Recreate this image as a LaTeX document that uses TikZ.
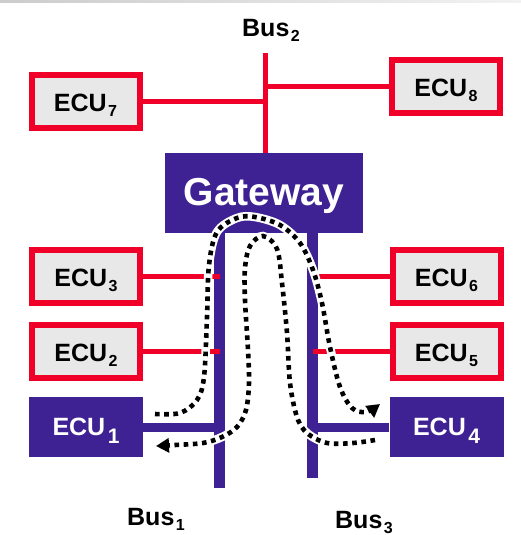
\documentclass[tikz,border=0pt]{standalone}
\usepackage{fontspec}
\setmainfont{Liberation Sans}
\usetikzlibrary{arrows.meta}
\definecolor{ecured}{RGB}{240,0,40}
\definecolor{ecupurple}{RGB}{62,33,146}
\definecolor{ecugrey}{RGB}{232,232,232}
\newcommand{\subsm}[1]{\kern1.5pt\raisebox{-5pt}{\fontsize{16}{16}\selectfont #1}}
\newcommand{\sublg}[1]{\kern2.5pt\raisebox{-8pt}{\fontsize{21}{21}\selectfont #1}}
\begin{document}
\begin{tikzpicture}[x=1pt,y=-1pt,
  font=\fontsize{25}{25}\selectfont\bfseries,
  redecu/.style={draw=ecured, line width=6pt, fill=ecugrey, minimum width=108pt,
    minimum height=53pt, inner sep=0pt, text height=21pt, text depth=2pt},
  purpleecu/.style={fill=ecupurple, text=white, minimum width=114pt,
    minimum height=60pt, inner sep=0pt, text height=20pt, text depth=4pt},
  redlink/.style={draw=ecured, line width=5pt},
  buslink/.style={draw=ecupurple, line width=9pt},
  busbar/.style={draw=ecupurple, line width=11pt},
  flowhalo/.style={draw=white, line width=8.5pt},
  flow/.style={draw=black, line width=4.6pt, dash pattern=on 4.6pt off 4.6pt,
    -{Triangle[length=13pt,width=14pt]}},
  buslabel/.style={anchor=base, inner sep=0pt}
]
\useasboundingbox (0,0) rectangle (521,535);
\shade[left color=gray!40, right color=gray!10] (0,0) rectangle (521,3);

% bus coordinates
\coordinate (b2top) at (265.5,53);
\coordinate (b1top) at (219.5,233);
\coordinate (b1bot) at (219.5,488);
\coordinate (b3top) at (312.5,233);
\coordinate (b3bot) at (312.5,478);

% nodes
\node[fill=ecupurple, text=white, minimum width=198pt, minimum height=80pt,
  inner sep=0pt, font=\fontsize{39}{39}\selectfont\bfseries,
  text height=28pt, text depth=4pt] (gw) at (264,193) {Gateway};
\node[redecu] (ecu7) at (85.5,101.5) {ECU\subsm{7}};
\node[redecu] (ecu8) at (446,86.5) {ECU\subsm{8}};
\node[redecu] (ecu3) at (86,276.5) {ECU\subsm{3}};
\node[redecu] (ecu2) at (86,351.5) {ECU\subsm{2}};
\node[purpleecu] (ecu1) at (86,427) {ECU\sublg{1}};
\node[redecu] (ecu6) at (446.5,276.5) {ECU\subsm{6}};
\node[redecu] (ecu5) at (446.5,351.5) {ECU\subsm{5}};
\node[purpleecu] (ecu4) at (446.5,427) {ECU\sublg{4}};

% buses
\draw[busbar] (b1top) -- (b1bot);
\draw[busbar] (b3top) -- (b3bot);
\draw[redlink] (b2top) -- (b2top |- gw.north);

% links
\draw[redlink] (ecu7.east) -- (ecu7.east -| b2top);
\draw[redlink] (ecu8.west) -- (ecu8.west -| b2top);
\draw[redlink] (ecu3.east) -- (ecu3.east -| b1top);
\draw[redlink] (ecu2.east) -- (ecu2.east -| b1top);
\draw[buslink] (ecu1.east) -- (ecu1.east -| b1top);
\draw[redlink] (ecu6.west) -- (ecu6.west -| b3top);
\draw[redlink] (ecu5.west) -- (ecu5.west -| b3top);
\draw[buslink] (ecu4.west) -- (ecu4.west -| b3top);

% flows
\coordinate (fAs) at (155,414);
\coordinate (fAe) at (380,404);
\coordinate (fBs) at (375,440);
\coordinate (fBe) at (156,446);
\draw[flowhalo] plot[smooth, tension=0.55] coordinates {(fAs) (180,413) (197,400) (204,377) (207,317) (209,265) (217,232) (237,218) (255,217) (280,225) (300,243) (313,270) (322,303) (330,347) (340,387) (352,408) (366,412)};
\draw[flow] plot[smooth, tension=0.55] coordinates {(fAs) (180,413) (197,400) (204,377) (207,317) (209,265) (217,232) (237,218) (255,217) (280,225) (300,243) (313,270) (322,303) (330,347) (340,387) (352,408) (366,412) (fAe)};
\draw[flowhalo] plot[smooth, tension=0.55] coordinates {(fBs) (353,443) (327,443) (307,433) (297,417) (290,383) (287,333) (282,283) (277,249) (263,236) (250,246) (245,268) (245,300) (248,350) (249,383) (246,410) (237,427) (222,437) (203,443) (175,445)};
\draw[flow] plot[smooth, tension=0.55] coordinates {(fBs) (353,443) (327,443) (307,433) (297,417) (290,383) (287,333) (282,283) (277,249) (263,236) (250,246) (245,268) (245,300) (248,350) (249,383) (246,410) (237,427) (222,437) (203,443) (175,445) (fBe)};

% labels
\node[buslabel] (bus2) at (271,37) {Bus\subsm{2}};
\node[buslabel] (bus1) at (156,525) {Bus\subsm{1}};
\node[buslabel] (bus3) at (364,528) {Bus\subsm{3}};
\end{tikzpicture}
\end{document}
